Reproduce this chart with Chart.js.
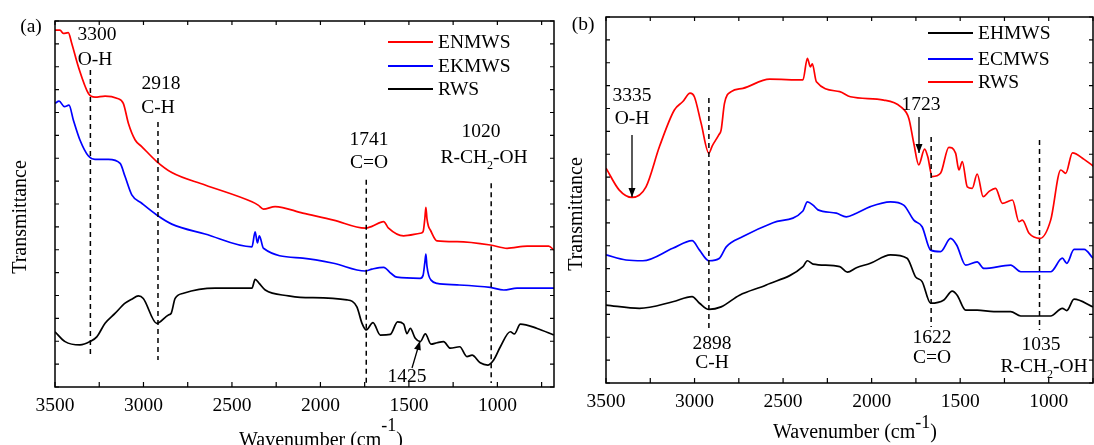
<!DOCTYPE html>
<html><head><meta charset="utf-8">
<script src="https://cdn.jsdelivr.net/npm/chart.js@4.4.0/dist/chart.umd.min.js"></script>
<style>
html,body{margin:0;padding:0;background:#fff;width:1094px;height:445px;overflow:hidden}
canvas{position:absolute;top:0;display:block}
#ca{left:0}
#cb{left:560px}
</style></head><body>
<canvas id="ca" width="560" height="445"></canvas>
<canvas id="cb" width="534" height="445"></canvas>
<script>
// ---------------- DATA ----------------
const xTickLabels = [3500, 3000, 2500, 2000, 1500, 1000];

// Panel (a): [wavenumber, transmittance (a.u.)]
const aENMWS = [[3500,97.5],[3472,97.5],[3453,96.6],[3425,96.8],[3406,94.0],[3368,87.5],[3311,80.2],[3274,79.2],[3217,79.5],[3151,78.9],[3114,77.5],[3085,72.0],[3047,67.5],[3010,65.7],[2925,61.6],[2840,58.6],[2652,55.2],[2387,50.6],[2352,49.7],[2322,48.6],[2256,49.3],[2100,47.5],[1926,45.6],[1747,43.4],[1709,43.9],[1643,45.2],[1615,43.4],[1530,41.3],[1436,42.0],[1420,42.4],[1410,46.0],[1404,49.1],[1398,46.0],[1390,44.0],[1379,42.9],[1341,39.9],[1228,39.7],[1040,38.8],[945,37.9],[832,38.5],[710,38.5],[680,37.4]];
const aEKMWS = [[3500,77.5],[3477,78.1],[3447,76.6],[3421,77.0],[3396,72.9],[3359,67.5],[3311,63.1],[3274,62.2],[3198,62.2],[3132,61.1],[3104,57.5],[3066,52.5],[3010,50.2],[2925,47.0],[2840,44.5],[2652,41.8],[2387,38.3],[2369,42.4],[2356,39.4],[2345,41.3],[2322,37.9],[2100,35.2],[1926,33.8],[1747,31.7],[1709,32.2],[1643,32.7],[1600,31.0],[1568,30.0],[1436,29.7],[1420,30.5],[1410,34.0],[1404,36.3],[1398,33.0],[1388,30.5],[1375,29.2],[1341,28.3],[1228,27.9],[1040,27.2],[964,26.5],[889,27.0],[680,27.0]];
const aRWS = [[3500,15.1],[3443,12.4],[3359,11.5],[3302,12.4],[3264,13.7],[3217,17.4],[3161,20.1],[3104,22.9],[3066,24.0],[3029,24.9],[3001,24.2],[2925,17.4],[2859,19.7],[2844,20.1],[2821,24.2],[2774,25.6],[2595,27.0],[2387,27.0],[2369,29.4],[2346,28.3],[2312,26.5],[2180,24.9],[2114,24.5],[1850,23.8],[1794,21.9],[1765,17.4],[1741,15.6],[1703,17.6],[1662,14.2],[1605,14.4],[1564,17.8],[1530,17.2],[1511,14.6],[1492,16.0],[1464,13.3],[1436,12.4],[1407,14.5],[1375,11.7],[1341,12.1],[1304,12.4],[1266,10.6],[1213,11.0],[1172,8.3],[1143,8.7],[1097,6.6],[1055,6.0],[1021,7.4],[983,11.0],[927,15.1],[904,14.5],[870,17.2],[775,16.0],[681,14.2]];

// Panel (b)
const bEHMWS = [[3500,21.3],[3311,20.4],[3123,22.2],[3014,23.6],[2972,21.8],[2919,20.1],[2850,20.8],[2746,24.0],[2595,26.8],[2388,31.8],[2363,33.4],[2331,32.5],[2180,31.8],[2137,30.3],[2086,31.5],[2007,32.7],[1894,35.0],[1800,34.1],[1752,29.0],[1715,27.7],[1667,21.8],[1592,22.7],[1545,25.1],[1517,24.0],[1469,19.9],[1404,19.9],[1310,19.5],[1215,19.5],[1158,18.3],[989,18.3],[923,20.4],[898,19.8],[857,22.9],[750,20.8]];
const bECMWS = [[3500,35.0],[3387,33.6],[3292,33.4],[3123,36.8],[3014,38.9],[2972,36.3],[2919,33.4],[2859,34.1],[2821,37.2],[2727,40.0],[2557,43.8],[2388,47.0],[2363,49.5],[2331,48.6],[2303,47.3],[2199,46.4],[2143,45.4],[2086,46.4],[2007,48.2],[1894,49.5],[1819,48.6],[1762,44.5],[1715,42.7],[1667,36.3],[1611,35.9],[1554,39.5],[1520,37.7],[1469,32.2],[1404,33.1],[1366,31.3],[1215,32.2],[1158,30.4],[989,30.4],[923,34.1],[898,32.7],[857,36.5],[800,36.5],[750,34.1]];
const bRWS = [[3500,58.7],[3425,52.7],[3353,50.7],[3274,53.6],[3198,64.6],[3114,74.6],[3066,76.9],[3025,79.2],[3001,78.2],[2963,71.0],[2919,62.8],[2900,64.8],[2863,67.8],[2850,69.1],[2831,76.4],[2793,79.6],[2727,80.5],[2576,83.0],[2388,82.8],[2363,88.7],[2346,86.4],[2335,87.2],[2312,82.3],[2180,79.6],[2120,78.2],[1932,77.3],[1837,75.5],[1790,72.3],[1762,65.5],[1734,59.6],[1701,63.9],[1683,61.8],[1658,56.4],[1611,57.3],[1564,64.4],[1526,62.8],[1507,58.2],[1488,60.5],[1460,53.6],[1432,53.2],[1404,57.1],[1370,50.9],[1338,52.3],[1300,53.2],[1262,49.1],[1205,50.0],[1168,44.1],[1149,44.5],[1111,40.9],[1049,39.5],[989,44.5],[932,58.2],[904,57.3],[866,62.9],[800,61.1],[744,59.1]];

// Peak markers (wavenumber, dashed-line extent in transmittance units)
const aMarkers = [{wn:3300,top:86.6,bottom:7.9},{wn:2918,top:72.4,bottom:7.4},{wn:1741,top:56.6,bottom:0},{wn:1035,top:55.7,bottom:1.1}];
const bMarkers = [{wn:2919,top:77.9,bottom:14.5},{wn:1664,top:67.2,bottom:15.3},{wn:1052,top:66.4,bottom:14.5}];

// ---------------- RENDERING ----------------
const FONT = "'Liberation Serif','Times New Roman',serif";

function richText(ctx, parts, cx, base, size){
  let w = 0;
  parts.forEach(p => { ctx.font = (p.sub||p.sup ? p.fs : size) + 'px ' + FONT; p.w = ctx.measureText(p.t).width; w += p.w; });
  let x = cx - w/2;
  ctx.textAlign = 'left'; ctx.textBaseline = 'alphabetic';
  parts.forEach(p => {
    ctx.font = (p.sub||p.sup ? p.fs : size) + 'px ' + FONT;
    const y = base + (p.sub ? p.off : 0) - (p.sup ? p.off : 0);
    ctx.fillText(p.t, x, y); x += p.w;
  });
}

function arrow(ctx, a){
  ctx.beginPath(); ctx.moveTo(a.x1, a.y1); ctx.lineTo(a.x2, a.y2); ctx.lineWidth = 1.3; ctx.stroke();
  const ang = Math.atan2(a.y2 - a.y1, a.x2 - a.x1), L = 9, W = 3.5;
  const bx = a.x2 - L*Math.cos(ang), by = a.y2 - L*Math.sin(ang);
  ctx.beginPath(); ctx.moveTo(a.x2, a.y2);
  ctx.lineTo(bx + W*Math.sin(ang), by - W*Math.cos(ang));
  ctx.lineTo(bx - W*Math.sin(ang), by + W*Math.cos(ang));
  ctx.closePath(); ctx.fill();
}

function decoPlugin(cfg){
  return { id:'deco', afterDraw(chart){
    const ctx = chart.ctx, ca = chart.chartArea, xs = chart.scales.x, ys = chart.scales.y;
    ctx.save();
    ctx.strokeStyle = '#000'; ctx.fillStyle = '#000';
    // frame
    ctx.lineWidth = 1.5;
    ctx.strokeRect(ca.left, ca.top, ca.right - ca.left, ca.bottom - ca.top);
    // inward ticks
    ctx.lineWidth = 1.2; ctx.beginPath();
    for (let v = 3500; v >= xs.min; v -= 250){
      const px = xs.getPixelForValue(v);
      ctx.moveTo(px, ca.bottom); ctx.lineTo(px, ca.bottom - 5);
      ctx.moveTo(px, ca.top); ctx.lineTo(px, ca.top + 4);
    }
    for (let v = 0; v <= 100.01; v += 6.25){
      const py = ys.getPixelForValue(v);
      ctx.moveTo(ca.left, py); ctx.lineTo(ca.left + 4, py);
      ctx.moveTo(ca.right, py); ctx.lineTo(ca.right - 4, py);
    }
    ctx.stroke();
    // dashed peak markers
    ctx.setLineDash([5,4]); ctx.lineWidth = 1.5;
    cfg.markers.forEach(m => {
      const px = xs.getPixelForValue(m.wn);
      ctx.beginPath(); ctx.moveTo(px, ys.getPixelForValue(m.top)); ctx.lineTo(px, ys.getPixelForValue(m.bottom)); ctx.stroke();
    });
    ctx.setLineDash([]);
    // annotation texts
    ctx.textAlign = 'center'; ctx.textBaseline = 'alphabetic';
    ctx.font = cfg.fs + 'px ' + FONT;
    cfg.texts.forEach(t => { ctx.font = cfg.fs + 'px ' + FONT; ctx.textAlign='center'; ctx.textBaseline='alphabetic'; ctx.fillText(t.t, t.x, t.y); });
    cfg.rich.forEach(r => richText(ctx, [{t:'R-CH'},{t:'2',sub:true,fs:12,off:6},{t:'-OH'}], r.x, r.y, cfg.fs));
    cfg.arrows.forEach(a => arrow(ctx, a));
    // legend
    const L = cfg.legend;
    chart.data.datasets.forEach((ds, i) => {
      const y = L.rows[i];
      ctx.strokeStyle = ds.borderColor; ctx.lineWidth = 2;
      ctx.beginPath(); ctx.moveTo(L.x1, y); ctx.lineTo(L.x2, y); ctx.stroke();
      ctx.fillStyle = '#000'; ctx.font = cfg.fs + 'px ' + FONT; ctx.textAlign = 'left'; ctx.textBaseline='alphabetic';
      ctx.fillText(ds.label, L.tx, y + 6);
    });
    // axis titles
    ctx.fillStyle = '#000';
    richText(ctx, [{t:'Wavenumber (cm'},{t:'-1',sup:true,fs:18,off:cfg.xt.sup},{t:')'}], cfg.xt.x, cfg.xt.y, 20);
    ctx.save();
    ctx.translate(cfg.yt.x, cfg.yt.y); ctx.rotate(-Math.PI/2);
    ctx.font = '20px ' + FONT; ctx.textAlign = 'center'; ctx.textBaseline = 'middle';
    ctx.fillText('Transmittance', 0, 0);
    ctx.restore();
    ctx.restore();
  }};
}

function makeChart(id, series, colors, labels, cfg){
  return new Chart(document.getElementById(id), {
    type: 'line',
    data: { datasets: series.map((s, i) => ({
      label: labels[i],
      data: s.map(p => ({x: p[0], y: p[1]})),
      borderColor: colors[i], borderWidth: 1.7, pointRadius: 0, fill: false,
      cubicInterpolationMode: 'monotone'
    }))},
    options: {
      responsive: false, animation: false, devicePixelRatio: 1,
      layout: { padding: { top: cfg.top, right: cfg.right, left: 0, bottom: 0 } },
      plugins: { legend: { display: false }, tooltip: { enabled: false } },
      scales: {
        x: { type: 'linear', reverse: true, min: cfg.xmin, max: 3500,
             afterBuildTicks: s => { s.ticks = xTickLabels.map(v => ({value: v})); },
             afterFit: s => { s.height = cfg.xh; },
             ticks: { font: { family: FONT, size: 19.5 }, color: '#000', padding: 7, maxRotation: 0, autoSkip: false, callback: v => String(v) },
             grid: { display: false, drawTicks: false }, border: { display: false } },
        y: { min: 0, max: 100,
             afterFit: s => { s.width = cfg.yw; },
             ticks: { display: false },
             grid: { display: false, drawTicks: false }, border: { display: false } }
      }
    },
    plugins: [decoPlugin(cfg)]
  });
}

makeChart('ca', [aENMWS, aEKMWS, aRWS], ['#ff0000', '#0000ff', '#000000'], ['ENMWS', 'EKMWS', 'RWS'], {
  top: 21, right: 6, xh: 58, yw: 55, xmin: 680, fs: 19.5,
  markers: aMarkers,
  texts: [{t:'3300',x:97,y:40},{t:'O-H',x:95,y:65},{t:'2918',x:161,y:89},{t:'C-H',x:158,y:113},
          {t:'1741',x:369,y:145},{t:'C=O',x:369,y:168},{t:'1020',x:481,y:137},{t:'1425',x:407,y:382},{t:'(a)',x:31,y:32}],
  rich: [{x:484,y:163}],
  arrows: [{x1:412,y1:368,x2:420,y2:341}],
  legend: { x1:388, x2:433, tx:438, rows:[42,66,89] },
  xt: { x:321, y:445.5, sup:15 },
  yt: { x:21, y:217 }
});

makeChart('cb', [bEHMWS, bECMWS, bRWS], ['#000000', '#0000ff', '#ff0000'], ['EHMWS', 'ECMWS', 'RWS'], {
  top: 17, right: 1, xh: 62, yw: 46, xmin: 750, fs: 19.5,
  markers: bMarkers,
  texts: [{t:'3335',x:72,y:101},{t:'O-H',x:72,y:124},{t:'1723',x:361,y:110},{t:'2898',x:152,y:349},{t:'C-H',x:152,y:368},
          {t:'1622',x:372,y:343},{t:'C=O',x:372,y:363},{t:'1035',x:481,y:350},{t:'(b)',x:23,y:30}],
  rich: [{x:484,y:372}],
  arrows: [{x1:72,y1:135,x2:72,y2:197},{x1:359,y1:117,x2:359,y2:153}],
  legend: { x1:368, x2:413, tx:418, rows:[33,59,82] },
  xt: { x:295, y:438, sup:10 },
  yt: { x:17, y:214 }
});
</script>
</body></html>
